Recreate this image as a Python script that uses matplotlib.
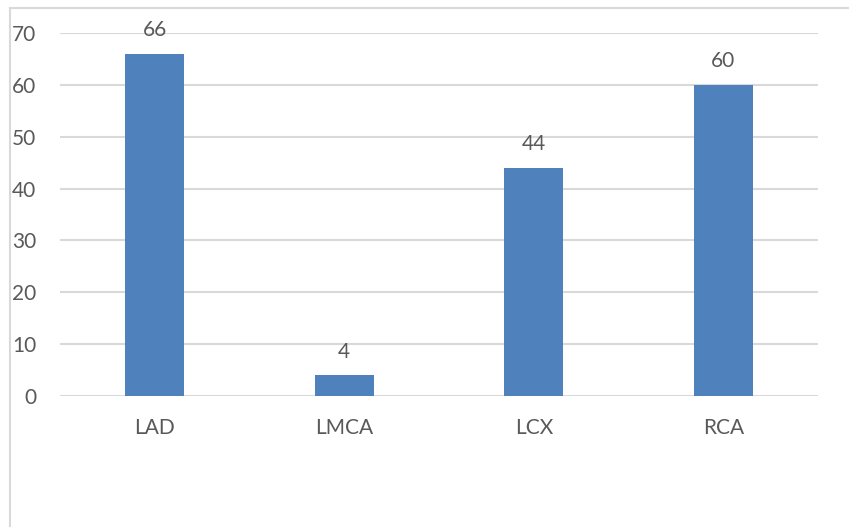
import matplotlib.pyplot as plt
from matplotlib.lines import Line2D

# Datos
categorias = ['LAD', 'LMCA', 'LCX', 'RCA']
valores = [66, 4, 44, 60]
ticks_y = [0, 10, 20, 30, 40, 50, 60, 70]

AZUL = '#4F81BD'
GRIS_TEXTO = '#595959'
GRIS_LINEA = '#D9D9D9'

plt.rcParams['font.family'] = ['Lato', 'DejaVu Sans']

fig = plt.figure(figsize=(8.49, 5.27), dpi=100)
ax = fig.add_axes([0.0703, 0.2486, 0.8935, 0.6888])

x = list(range(len(categorias)))
ax.bar(x, valores, width=0.31, color=AZUL, zorder=3)

for xi, v in zip(x, valores):
    ax.annotate(str(v), (xi, v), xytext=(0, 17), textcoords='offset points',
                ha='center', va='center', fontsize=15, color=GRIS_TEXTO)

ax.set_xlim(-0.5, len(categorias) - 0.5)
ax.set_ylim(0, 70)
ax.set_yticks(ticks_y)
ax.set_xticks(x)
ax.set_xticklabels(categorias)
ax.tick_params(axis='both', length=0, labelsize=15, labelcolor=GRIS_TEXTO)
ax.tick_params(axis='y', pad=17)
ax.tick_params(axis='x', pad=16)
ax.grid(axis='y', color=GRIS_LINEA, linewidth=1.5, zorder=0)
for s in ax.spines.values():
    s.set_visible(False)

# marco parcial del gráfico
fig.add_artist(Line2D([9.5 / 849, 1], [1 - 7.5 / 527] * 2, transform=fig.transFigure,
                      color=GRIS_LINEA, linewidth=1.5))
fig.add_artist(Line2D([9.5 / 849] * 2, [0, 1 - 7.5 / 527], transform=fig.transFigure,
                      color=GRIS_LINEA, linewidth=1.5))

fig.savefig('out.png', dpi=100)
